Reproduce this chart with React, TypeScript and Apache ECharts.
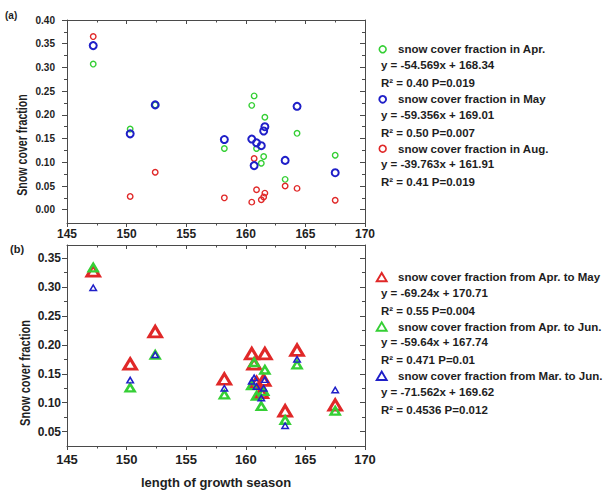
import React, { useEffect, useRef } from "react";
import * as echarts from "echarts";

// ---- data ----
const growthLength = [147.2, 150.3, 152.4, 158.2, 160.5, 160.7, 160.9, 161.3, 161.5, 161.6, 163.3, 164.3, 167.5];

const snowApr = [0.307, 0.17, 0.221, 0.129, 0.22, 0.24, 0.129, 0.098, 0.112, 0.195, 0.064, 0.161, 0.115];
const snowMay = [0.346, 0.16, 0.221, 0.148, 0.149, 0.093, 0.141, 0.135, 0.166, 0.175, 0.104, 0.218, 0.078];
const snowAug = [0.365, 0.028, 0.079, 0.025, 0.016, 0.108, 0.042, 0.021, 0.027, 0.035, 0.05, 0.045, 0.02];

const snowAprMay = [0.328, 0.167, 0.223, 0.141, 0.185, 0.167, 0.135, 0.118, 0.139, 0.185, 0.086, 0.191, 0.096];
const snowAprJun = [0.334, 0.126, 0.183, 0.114, 0.13, 0.17, 0.112, 0.094, 0.12, 0.157, 0.07, 0.166, 0.086];
const snowMarJun = [0.299, 0.139, 0.183, 0.125, 0.137, 0.143, 0.128, 0.108, 0.125, 0.14, 0.06, 0.175, 0.122];

const topYTicks = [0, 0.05, 0.1, 0.15, 0.2, 0.25, 0.3, 0.35, 0.4];
const topYMinor = [0.025, 0.075, 0.125, 0.175, 0.225, 0.275, 0.325, 0.375];
const bottomYTicks = [0.05, 0.1, 0.15, 0.2, 0.25, 0.3, 0.35];
const bottomYMinor = [0.075, 0.125, 0.175, 0.225, 0.275, 0.325];

const topLegendNames = ["snow cover fraction in Apr.", "snow cover fraction in May", "snow cover fraction in Aug."];
const topLegendEqs = ["y = -54.569x + 168.34", "y = -59.356x + 169.01", "y = -39.763x + 161.91"];
const topLegendStats = ["R² = 0.40 P=0.019", "R² = 0.50 P=0.007", "R² = 0.41 P=0.019"];

const bottomLegendNames = [
  "snow cover fraction from Apr. to May",
  "snow cover fraction from Apr. to Jun.",
  "snow cover fraction from Mar. to Jun.",
];
const bottomLegendEqs = ["y = -69.24x + 170.71", "y = -59.64x + 167.74", "y = -71.562x + 169.62"];
const bottomLegendStats = ["R² = 0.55 P=0.004", "R² = 0.471 P=0.01", "R² = 0.4536 P=0.012"];

// ---- styling ----
const FONT = '"Liberation Sans", Arial, Helvetica, sans-serif';
const AX = "#4a4a4a";
const TXT = "#1e1e1e";
const GREEN = "#35cf35";
const BLUE = "#1f1fc8";
const RED = "#e02828";

const TOP_GRID = { left: 67, top: 20, width: 298, height: 203 };
const BOT_GRID = { left: 67, top: 245, width: 298, height: 201 };

const pair = (ys: number[]) => growthLength.map((x, i) => [x, ys[i]]);

function xAxisDef(gridIndex: number, position: string, showLabel: boolean, fontSize: number, margin: number, visible = true) {
  return {
    type: "value",
    gridIndex,
    position,
    show: visible,
    min: 145,
    max: 170,
    interval: 5,
    axisLine: { show: true, onZero: false, lineStyle: { color: AX, width: 1 } },
    axisTick: { show: true, inside: position === "top", length: 4, lineStyle: { color: AX } },
    minorTick: { show: true, splitNumber: 2, length: 2.5, lineStyle: { color: AX } },
    axisLabel: { show: showLabel, fontSize, fontWeight: "bold", color: TXT, fontFamily: FONT, margin },
    splitLine: { show: false },
    minorSplitLine: { show: false },
  };
}

function yAxisDef(
  gridIndex: number,
  position: string,
  min: number,
  max: number,
  ticks: number[],
  opts: { label?: boolean; fontSize?: number; margin?: number; len: number; inside: boolean; line: boolean }
) {
  return {
    type: "value",
    gridIndex,
    position,
    min,
    max,
    axisLine: { show: opts.line, onZero: false, lineStyle: { color: AX, width: 1 } },
    axisTick: { show: true, inside: opts.inside, length: opts.len, customValues: ticks, lineStyle: { color: AX } },
    axisLabel: {
      show: !!opts.label,
      customValues: ticks,
      formatter: (v: number) => v.toFixed(2),
      fontSize: opts.fontSize || 10,
      fontWeight: "bold",
      color: TXT,
      fontFamily: FONT,
      margin: opts.margin || 8,
    },
    splitLine: { show: false },
  };
}

function legendText(x: number, y: number, text: string) {
  return {
    type: "text",
    x,
    y,
    silent: true,
    style: { text, fill: TXT, font: `bold 11.5px ${FONT}`, align: "left", verticalAlign: "middle" },
  };
}

function buildGraphic() {
  const g: any[] = [];
  // panel tags
  g.push({ type: "text", x: 5, y: 15, style: { text: "(a)", fill: TXT, font: `bold 10px ${FONT}`, align: "left", verticalAlign: "middle" } });
  g.push({ type: "text", x: 10, y: 249, style: { text: "(b)", fill: TXT, font: `bold 11px ${FONT}`, align: "left", verticalAlign: "middle" } });
  // y axis names
  g.push({
    type: "text", x: 22.5, y: 145, rotation: Math.PI / 2, scaleX: 0.76,
    style: { text: "Snow cover fraction", fill: TXT, font: `bold 14px ${FONT}`, align: "center", verticalAlign: "middle" },
  });
  g.push({
    type: "text", x: 25, y: 373, rotation: Math.PI / 2, scaleX: 0.74,
    style: { text: "Snow cover fraction", fill: TXT, font: `bold 15px ${FONT}`, align: "center", verticalAlign: "middle" },
  });
  // x axis name
  g.push({
    type: "text", x: 216, y: 482,
    style: { text: "length of growth season", fill: TXT, font: `bold 13px ${FONT}`, align: "center", verticalAlign: "middle" },
  });

  // top legend
  const topColors = [GREEN, BLUE, RED];
  const topBase = [49.3, 99.3, 148.7];
  topBase.forEach((y0, i) => {
    g.push({
      type: "circle", silent: true,
      shape: { cx: 382.7, cy: y0, r: 3.4 },
      style: { fill: "none", stroke: topColors[i], lineWidth: i === 1 ? 1.9 : 1.6 },
    });
    g.push(legendText(398, y0, topLegendNames[i]));
    g.push(legendText(381, y0 + 15.5, topLegendEqs[i]));
    g.push(legendText(381, y0 + 33.5, topLegendStats[i]));
  });

  // bottom legend
  const botColors = [RED, GREEN, BLUE];
  const botBase = [277.3, 326.7, 376];
  botBase.forEach((y0, i) => {
    const cx = 381.7;
    g.push({
      type: "polygon", silent: true,
      shape: { points: [[cx - 5, y0 + 4], [cx + 5, y0 + 4], [cx, y0 - 4.4]] },
      style: { fill: "none", stroke: botColors[i], lineWidth: 1.9 },
    });
    g.push(legendText(398, y0, bottomLegendNames[i]));
    g.push(legendText(381, y0 + 15.5, bottomLegendEqs[i]));
    g.push(legendText(381, y0 + 33.5, bottomLegendStats[i]));
  });
  return g;
}

function hollow(color: string, width: number) {
  return { color: "rgba(0,0,0,0)", borderColor: color, borderWidth: width, opacity: 1 };
}

export default function App() {
  const ref = useRef<HTMLDivElement>(null);
  useEffect(() => {
    if (!ref.current) return;
    const chart = echarts.init(ref.current, undefined, { renderer: "svg" });
    const option: any = {
      animation: false,
      backgroundColor: "#ffffff",
      grid: [
        { ...TOP_GRID },
        { ...BOT_GRID },
        { ...TOP_GRID },
        { ...BOT_GRID },
      ],
      xAxis: [
        xAxisDef(0, "bottom", true, 12, 5),
        xAxisDef(0, "top", false, 12, 5),
        xAxisDef(1, "bottom", true, 13, 7),
        xAxisDef(1, "top", false, 13, 7),
        xAxisDef(2, "bottom", false, 12, 5, false),
        xAxisDef(3, "bottom", false, 12, 5, false),
      ],
      yAxis: [
        yAxisDef(0, "left", -0.028, 0.4, topYTicks, { label: true, fontSize: 10, margin: 12, len: 5, inside: false, line: true }),
        yAxisDef(0, "right", -0.028, 0.4, topYTicks, { len: 5, inside: true, line: true }),
        yAxisDef(1, "left", 0.025, 0.373, bottomYTicks, { label: true, fontSize: 12, margin: 6, len: 5, inside: false, line: true }),
        yAxisDef(1, "right", 0.025, 0.373, bottomYTicks, { len: 5, inside: true, line: true }),
        yAxisDef(2, "left", -0.028, 0.4, topYMinor, { len: 3, inside: false, line: false }),
        yAxisDef(2, "right", -0.028, 0.4, topYMinor, { len: 3, inside: true, line: false }),
        yAxisDef(3, "left", 0.025, 0.373, bottomYMinor, { len: 3, inside: false, line: false }),
        yAxisDef(3, "right", 0.025, 0.373, bottomYMinor, { len: 3, inside: true, line: false }),
      ],
      series: [
        {
          name: "snow cover fraction in Apr.", type: "scatter", xAxisIndex: 0, yAxisIndex: 0,
          symbol: "circle", symbolSize: 5.5, itemStyle: hollow(GREEN, 1.4), data: pair(snowApr),
        },
        {
          name: "snow cover fraction in Aug.", type: "scatter", xAxisIndex: 0, yAxisIndex: 0,
          symbol: "circle", symbolSize: 5.5, itemStyle: hollow(RED, 1.4), data: pair(snowAug),
        },
        {
          name: "snow cover fraction in May", type: "scatter", xAxisIndex: 0, yAxisIndex: 0,
          symbol: "circle", symbolSize: 7, itemStyle: hollow(BLUE, 2), data: pair(snowMay),
        },
        {
          name: "snow cover fraction from Apr. to May", type: "scatter", xAxisIndex: 2, yAxisIndex: 2,
          symbol: "triangle", symbolSize: [12.5, 10.5], itemStyle: hollow(RED, 3), data: pair(snowAprMay),
        },
        {
          name: "snow cover fraction from Apr. to Jun.", type: "scatter", xAxisIndex: 2, yAxisIndex: 2,
          symbol: "triangle", symbolSize: [9, 7.5], itemStyle: hollow(GREEN, 2.5), data: pair(snowAprJun),
        },
        {
          name: "snow cover fraction from Mar. to Jun.", type: "scatter", xAxisIndex: 2, yAxisIndex: 2,
          symbol: "triangle", symbolSize: [6.5, 5.5], itemStyle: hollow(BLUE, 1.5), data: pair(snowMarJun),
        },
      ],
      graphic: buildGraphic(),
    };
    chart.setOption(option);
    return () => chart.dispose();
  }, []);
  return (
    <div
      ref={ref}
      style={{ position: "fixed", left: 0, top: 0, width: 605, height: 491, background: "#fff" }}
    />
  );
}
